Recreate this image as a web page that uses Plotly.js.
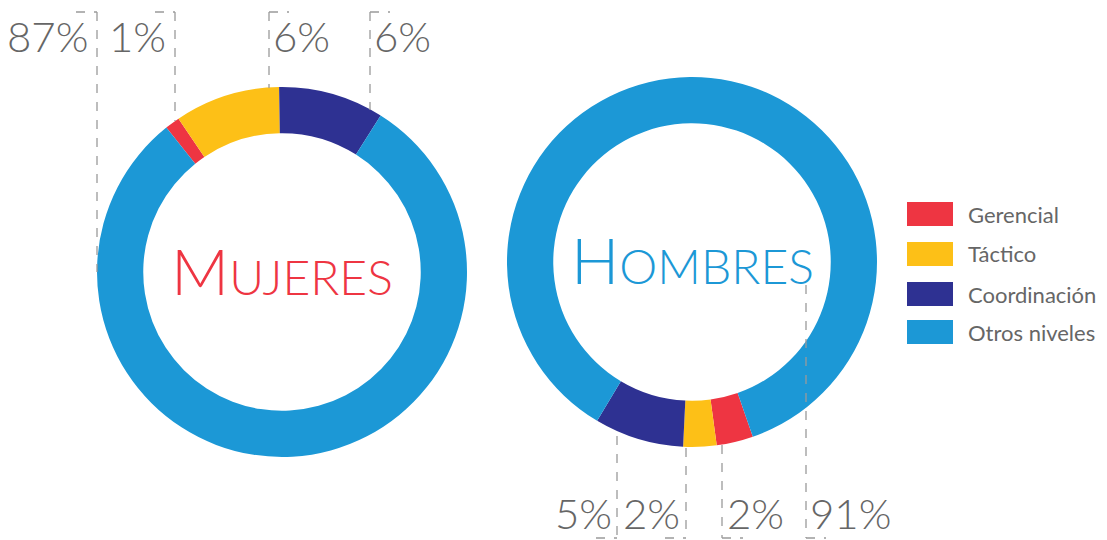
<!DOCTYPE html>
<html>
<head>
<meta charset="utf-8">
<script src="https://cdn.plot.ly/plotly-3.0.1.min.js"></script>
<style>html,body{margin:0;padding:0;background:#fff;}#chart{width:1107px;height:540px;}</style>
</head>
<body>
<div id="chart"></div>
<script>
// ---- data ----
const categories = ["Gerencial", "Táctico", "Coordinación", "Otros niveles"];
const colors = ["#EE3542", "#FDC017", "#2E3192", "#1C98D6"];
// slice sizes as drawn in the picture (%)
const mujeresValues = [1.3, 9.2, 9.2, 80.3];
const hombresValues = [3.2, 2.9, 7.8, 86.1];
// printed percentage labels
const mujeresLabels = ["1%", "6%", "6%", "87%"];
const hombresLabels = ["2%", "2%", "5%", "91%"];

const W = 1107, H = 540;
const px = x => x / W;
const py = y => 1 - y / H;

const gray = "#666666";
const pctFont = {family: "Lato", size: 42, color: gray, weight: 300};
const legFont = {family: "Lato", size: 22, color: gray};

const traces = [
  {
    type: "pie", labels: categories, values: mujeresValues, hole: 0.75,
    sort: false, direction: "clockwise", rotation: -38.7,
    marker: {colors: colors, line: {width: 0}},
    textinfo: "none", hoverinfo: "label+percent", showlegend: false,
    domain: {x: [px(97), px(467)], y: [py(457), py(87)]}
  },
  {
    type: "pie", labels: categories, values: hombresValues, hole: 0.75,
    sort: false, direction: "clockwise", rotation: 160.8,
    marker: {colors: colors, line: {width: 0}},
    textinfo: "none", hoverinfo: "label+percent", showlegend: false,
    domain: {x: [px(507), px(877)], y: [py(447), py(77)]}
  }
];

const shapes = [];
const annotations = [];
const dashLine = {color: "#9a9a9a", width: 1.3, dash: "dash"};
function line(x0, y0, x1, y1) {
  shapes.push({type: "line", xref: "paper", yref: "paper",
    x0: px(x0), y0: py(y0), x1: px(x1), y1: py(y1), line: dashLine});
}
function label(text, x, y, anchor, vanchor) {
  annotations.push({xref: "paper", yref: "paper", x: px(x), y: py(y),
    text: text, showarrow: false, xanchor: anchor, yanchor: vanchor || "middle",
    font: pctFont});
}

// Mujeres labels (top)
line(97, 12, 97, 272); line(76, 12, 97, 12); label(mujeresLabels[3], 90, 36, "right");
line(175, 12, 175, 121); line(155, 12, 175, 12); label(mujeresLabels[0], 168, 36, "right");
line(269, 12, 269, 88); line(269, 12, 289, 12); label(mujeresLabels[1], 271, 36, "left");
line(370, 12, 370, 110); line(370, 12, 390, 12); label(mujeresLabels[2], 372, 36, "left");

// Hombres labels (bottom)
line(617, 436, 617, 538); line(596, 538, 617, 538); label(hombresLabels[2], 614, 540, "right", "bottom");
line(686, 448, 686, 538); line(665, 538, 686, 538); label(hombresLabels[1], 682, 540, "right", "bottom");
line(722, 445, 722, 538); line(722, 538, 743, 538); label(hombresLabels[0], 725, 540, "left", "bottom");
line(806, 285, 806, 538); line(806, 538, 826, 538); label(hombresLabels[3], 808, 540, "left", "bottom");

// Center titles
annotations.push({xref: "paper", yref: "paper", x: px(282), y: py(270), xanchor: "center", yanchor: "middle",
  showarrow: false, text: "M<span style='font-size:48px'>UJERES</span>",
  font: {family: "Lato", size: 64, color: "#EE3542", weight: 300}});
annotations.push({xref: "paper", yref: "paper", x: px(692), y: py(260), xanchor: "center", yanchor: "middle",
  showarrow: false, text: "H<span style='font-size:48px'>OMBRES</span>",
  font: {family: "Lato", size: 64, color: "#1C98D6", weight: 300}});

// Legend
const legY = [214, 254, 294, 332];
categories.forEach((c, i) => {
  shapes.push({type: "rect", xref: "paper", yref: "paper",
    x0: px(907), x1: px(953), y0: py(legY[i] - 12), y1: py(legY[i] + 12),
    fillcolor: colors[i], line: {width: 0}});
  annotations.push({xref: "paper", yref: "paper", x: px(966), y: py(legY[i]),
    xanchor: "left", yanchor: "middle", showarrow: false, text: c, font: legFont});
});

const layout = {
  width: W, height: H, autosize: false,
  margin: {l: 0, r: 0, t: 0, b: 0},
  paper_bgcolor: "#ffffff", plot_bgcolor: "#ffffff",
  showlegend: false, shapes: shapes, annotations: annotations
};
Plotly.newPlot("chart", traces, layout, {displayModeBar: false, staticPlot: true});
</script>
</body>
</html>
